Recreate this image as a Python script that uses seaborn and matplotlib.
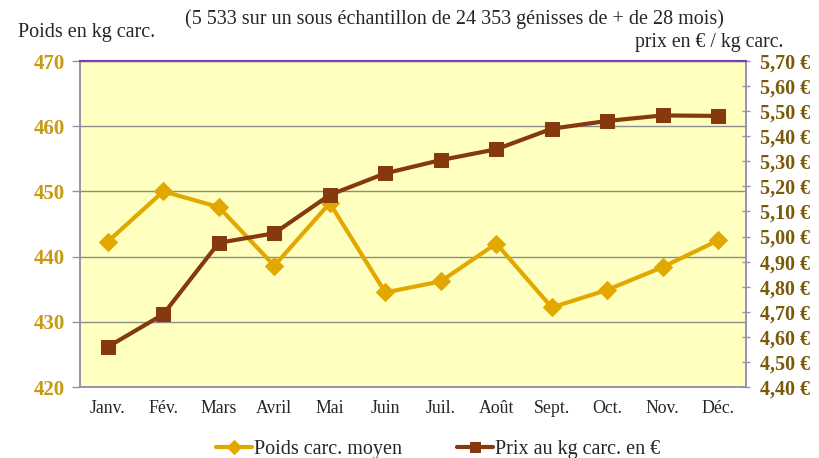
import matplotlib
matplotlib.use("Agg")
import matplotlib.pyplot as plt
import seaborn as sns
import pandas as pd
from matplotlib.ticker import FixedLocator

sns.set_theme(style="white")
plt.rcParams["font.family"] = ["Liberation Serif", "DejaVu Serif"]

mois = ["Janv.", "Fév.", "Mars", "Avril", "Mai", "Juin", "Juil.", "Août",
        "Sept.", "Oct.", "Nov.", "Déc."]
poids = [442.3, 450.0, 447.6, 438.6, 448.2, 434.5, 436.2, 442.0, 432.2, 434.9, 438.4, 442.5]
prix = [4.56, 4.69, 4.975, 5.013, 5.166, 5.252, 5.305, 5.348, 5.43, 5.461, 5.483, 5.481]
ticks_poids = [420, 430, 440, 450, 460, 470]
ticks_prix = [4.40 + 0.10 * i for i in range(14)]

df = pd.DataFrame({"x": range(len(mois)), "mois": mois, "poids": poids, "prix": prix})

c_poids = "#E2A800"
c_prix = "#86390C"
c_lab_left = "#C89A12"
c_lab_right = "#7A5A08"
c_spine = "#9A8FB0"

fig = plt.figure(figsize=(8.19, 4.58), dpi=100)
ax = fig.add_axes([0.0977, 0.155, 0.8132, 0.7118])
ax.set_facecolor("#FFFFC0")
ax2 = ax.twinx()

sns.lineplot(data=df, x="x", y="poids", ax=ax, color=c_poids, lw=3,
             marker="D", markersize=9, markeredgecolor=c_poids,
             label="Poids carc. moyen", legend=False, zorder=3)
sns.lineplot(data=df, x="x", y="prix", ax=ax2, color=c_prix, lw=3,
             marker="s", markersize=10, markeredgecolor=c_prix,
             label="Prix au kg carc. en €", legend=False, zorder=3)

ax.set_xlim(-0.5, len(mois) - 0.5)
ax.set_ylim(420, 470)
ax2.set_ylim(4.40, 5.70)

ax.set_yticks(ticks_poids)
ax.set_yticklabels([str(t) for t in ticks_poids], fontsize=15, fontweight="bold",
                   color=c_lab_left)
ax2.set_yticks(ticks_prix)
ax2.set_yticklabels([f"{t:.2f} €".replace(".", ",") for t in ticks_prix],
                    fontsize=14.4, fontweight="bold", color=c_lab_right)

ax.set_xticks(range(len(mois)))
ax.set_xticklabels(mois, fontsize=12.8)
ax.xaxis.set_minor_locator(FixedLocator([i - 0.5 for i in range(len(mois) + 1)]))
ax.tick_params(axis="x", which="major", length=0, pad=9)
ax.tick_params(axis="x", which="minor", length=5, width=1, color=c_spine, direction="out")
ax.tick_params(axis="y", length=6, width=1, color=c_spine, direction="out", pad=5)
ax2.tick_params(axis="y", length=6, width=1, color=c_spine, direction="inout", pad=7)

ax.grid(axis="y", color="#8C8C8C", lw=1)
ax.set_xlabel("")
ax.set_ylabel("")
ax2.set_ylabel("")

for a in (ax, ax2):
    for s in a.spines.values():
        s.set_color(c_spine)
        s.set_linewidth(1.2)
    a.spines["top"].set_color("#7A3FB0")
    a.spines["top"].set_linewidth(1.5)
ax.set_zorder(ax2.get_zorder() - 1)
ax2.patch.set_visible(False)

fig.text(0.022, 0.928, "Poids en kg carc.", fontsize=14.5, ha="left", va="center")
fig.text(0.555, 0.958, "(5 533 sur un sous échantillon de 24 353 génisses de + de 28 mois)",
         fontsize=14.5, ha="center", va="center")
fig.text(0.957, 0.908, "prix en € / kg carc.", fontsize=14.2, ha="right", va="center")

h1, l1 = ax.get_legend_handles_labels()
h2, l2 = ax2.get_legend_handles_labels()
leg = fig.legend(h1 + h2, l1 + l2, loc="center", bbox_to_anchor=(0.535, 0.018), ncol=2,
                 frameon=False, fontsize=14.5, handlelength=1.8, handletextpad=0.1,
                 columnspacing=2.7, markerscale=0.75)

fig.savefig("out.png", dpi=100)
